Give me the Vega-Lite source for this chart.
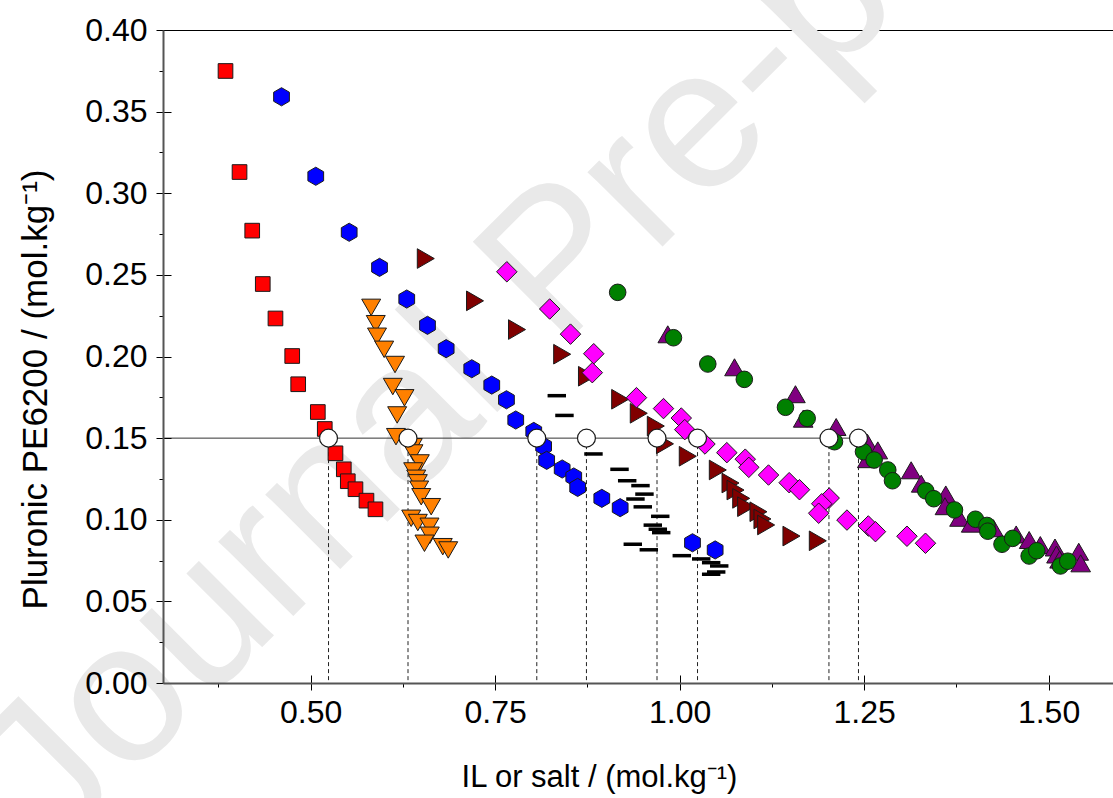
{
  "$schema": "https://vega.github.io/schema/vega-lite/v6.json",
  "width": 950,
  "height": 653,
  "autosize": {"type": "none"},
  "padding": {"left": 163, "top": 30, "right": 0, "bottom": 115},
  "background": "white",
  "config": {
    "view": {"stroke": "black", "strokeWidth": 1},
    "font": "Liberation Sans"
  },
  "datasets": {
    "pts": [
      {"s": "red", "x": 0.3847, "y": 0.3749},
      {"s": "red", "x": 0.4037, "y": 0.3130},
      {"s": "red", "x": 0.4209, "y": 0.2771},
      {"s": "red", "x": 0.4352, "y": 0.2444},
      {"s": "red", "x": 0.4524, "y": 0.2233},
      {"s": "red", "x": 0.4751, "y": 0.2003},
      {"s": "red", "x": 0.4832, "y": 0.1830},
      {"s": "red", "x": 0.5098, "y": 0.1660},
      {"s": "red", "x": 0.5192, "y": 0.1556},
      {"s": "red", "x": 0.5337, "y": 0.1407},
      {"s": "red", "x": 0.5450, "y": 0.1309},
      {"s": "red", "x": 0.5504, "y": 0.1236},
      {"s": "red", "x": 0.5608, "y": 0.1187},
      {"s": "red", "x": 0.5757, "y": 0.1117},
      {"s": "red", "x": 0.5879, "y": 0.1064},
      {"s": "blue", "x": 0.4606, "y": 0.3591},
      {"s": "blue", "x": 0.5070, "y": 0.3104},
      {"s": "blue", "x": 0.5523, "y": 0.2761},
      {"s": "blue", "x": 0.5934, "y": 0.2546},
      {"s": "blue", "x": 0.6303, "y": 0.2352},
      {"s": "blue", "x": 0.6584, "y": 0.2191},
      {"s": "blue", "x": 0.6837, "y": 0.2048},
      {"s": "blue", "x": 0.7184, "y": 0.1925},
      {"s": "blue", "x": 0.7455, "y": 0.1825},
      {"s": "blue", "x": 0.7654, "y": 0.1735},
      {"s": "blue", "x": 0.7780, "y": 0.1611},
      {"s": "blue", "x": 0.8024, "y": 0.1541},
      {"s": "blue", "x": 0.8158, "y": 0.1450},
      {"s": "blue", "x": 0.8199, "y": 0.1364},
      {"s": "blue", "x": 0.8409, "y": 0.1311},
      {"s": "blue", "x": 0.8566, "y": 0.1262},
      {"s": "blue", "x": 0.8619, "y": 0.1198},
      {"s": "blue", "x": 0.8946, "y": 0.1131},
      {"s": "blue", "x": 0.9195, "y": 0.1074},
      {"s": "blue", "x": 1.0175, "y": 0.0859},
      {"s": "blue", "x": 1.0482, "y": 0.0815},
      {"s": "orange", "x": 0.5821, "y": 0.2301},
      {"s": "orange", "x": 0.5883, "y": 0.2201},
      {"s": "orange", "x": 0.5900, "y": 0.2124},
      {"s": "orange", "x": 0.5997, "y": 0.2044},
      {"s": "orange", "x": 0.6144, "y": 0.1951},
      {"s": "orange", "x": 0.6114, "y": 0.1816},
      {"s": "orange", "x": 0.6272, "y": 0.1747},
      {"s": "orange", "x": 0.6173, "y": 0.1642},
      {"s": "orange", "x": 0.6157, "y": 0.1509},
      {"s": "orange", "x": 0.6385, "y": 0.1447},
      {"s": "orange", "x": 0.6394, "y": 0.1409},
      {"s": "orange", "x": 0.6480, "y": 0.1348},
      {"s": "orange", "x": 0.6390, "y": 0.1299},
      {"s": "orange", "x": 0.6431, "y": 0.1254},
      {"s": "orange", "x": 0.6453, "y": 0.1226},
      {"s": "orange", "x": 0.6471, "y": 0.1187},
      {"s": "orange", "x": 0.6499, "y": 0.1141},
      {"s": "orange", "x": 0.6634, "y": 0.1080},
      {"s": "orange", "x": 0.6363, "y": 0.1009},
      {"s": "orange", "x": 0.6453, "y": 0.0983},
      {"s": "orange", "x": 0.6611, "y": 0.0960},
      {"s": "orange", "x": 0.6615, "y": 0.0905},
      {"s": "orange", "x": 0.6543, "y": 0.0856},
      {"s": "orange", "x": 0.6791, "y": 0.0835},
      {"s": "orange", "x": 0.6865, "y": 0.0815},
      {"s": "darkred", "x": 0.6561, "y": 0.2600},
      {"s": "darkred", "x": 0.7228, "y": 0.2341},
      {"s": "darkred", "x": 0.7797, "y": 0.2165},
      {"s": "darkred", "x": 0.8409, "y": 0.2014},
      {"s": "darkred", "x": 0.8745, "y": 0.1879},
      {"s": "darkred", "x": 0.9195, "y": 0.1738},
      {"s": "darkred", "x": 0.9447, "y": 0.1652},
      {"s": "darkred", "x": 0.9678, "y": 0.1574},
      {"s": "darkred", "x": 0.9802, "y": 0.1465},
      {"s": "darkred", "x": 1.0111, "y": 0.1389},
      {"s": "darkred", "x": 1.0518, "y": 0.1305},
      {"s": "darkred", "x": 1.0690, "y": 0.1225},
      {"s": "darkred", "x": 1.0758, "y": 0.1182},
      {"s": "darkred", "x": 1.0835, "y": 0.1131},
      {"s": "darkred", "x": 1.0902, "y": 0.1080},
      {"s": "darkred", "x": 1.1069, "y": 0.1049},
      {"s": "darkred", "x": 1.1123, "y": 0.1005},
      {"s": "darkred", "x": 1.1173, "y": 0.0968},
      {"s": "darkred", "x": 1.1516, "y": 0.0900},
      {"s": "darkred", "x": 1.1873, "y": 0.0871},
      {"s": "magenta", "x": 0.7659, "y": 0.2519},
      {"s": "magenta", "x": 0.8240, "y": 0.2291},
      {"s": "magenta", "x": 0.8522, "y": 0.2137},
      {"s": "magenta", "x": 0.8837, "y": 0.2017},
      {"s": "magenta", "x": 0.8817, "y": 0.1901},
      {"s": "magenta", "x": 0.9416, "y": 0.1748},
      {"s": "magenta", "x": 0.9782, "y": 0.1681},
      {"s": "magenta", "x": 1.0023, "y": 0.1623},
      {"s": "magenta", "x": 1.0070, "y": 0.1552},
      {"s": "magenta", "x": 1.0344, "y": 0.1464},
      {"s": "magenta", "x": 1.0640, "y": 0.1411},
      {"s": "magenta", "x": 1.0890, "y": 0.1371},
      {"s": "magenta", "x": 1.0938, "y": 0.1321},
      {"s": "magenta", "x": 1.1205, "y": 0.1274},
      {"s": "magenta", "x": 1.1485, "y": 0.1227},
      {"s": "magenta", "x": 1.1625, "y": 0.1184},
      {"s": "magenta", "x": 1.2027, "y": 0.1133},
      {"s": "magenta", "x": 1.1926, "y": 0.1098},
      {"s": "magenta", "x": 1.1885, "y": 0.1040},
      {"s": "magenta", "x": 1.2268, "y": 0.0998},
      {"s": "magenta", "x": 1.2557, "y": 0.0962},
      {"s": "magenta", "x": 1.2654, "y": 0.0927},
      {"s": "magenta", "x": 1.3081, "y": 0.0899},
      {"s": "magenta", "x": 1.3332, "y": 0.0856},
      {"s": "purple", "x": 0.9840, "y": 0.2136},
      {"s": "purple", "x": 1.0744, "y": 0.1934},
      {"s": "purple", "x": 1.1570, "y": 0.1769},
      {"s": "purple", "x": 1.1675, "y": 0.1619},
      {"s": "purple", "x": 1.2122, "y": 0.1568},
      {"s": "purple", "x": 1.2546, "y": 0.1471},
      {"s": "purple", "x": 1.2686, "y": 0.1425},
      {"s": "purple", "x": 1.2543, "y": 0.1371},
      {"s": "purple", "x": 1.3138, "y": 0.1303},
      {"s": "purple", "x": 1.3274, "y": 0.1221},
      {"s": "purple", "x": 1.3607, "y": 0.1155},
      {"s": "purple", "x": 1.3596, "y": 0.1083},
      {"s": "purple", "x": 1.3793, "y": 0.1012},
      {"s": "purple", "x": 1.3951, "y": 0.0976},
      {"s": "purple", "x": 1.4253, "y": 0.0948},
      {"s": "purple", "x": 1.4561, "y": 0.0910},
      {"s": "purple", "x": 1.4737, "y": 0.0876},
      {"s": "purple", "x": 1.4888, "y": 0.0845},
      {"s": "purple", "x": 1.5087, "y": 0.0830},
      {"s": "purple", "x": 1.5107, "y": 0.0787},
      {"s": "purple", "x": 1.5409, "y": 0.0804},
      {"s": "purple", "x": 1.5435, "y": 0.0733},
      {"s": "purple", "x": 1.5149, "y": 0.0756},
      {"s": "green", "x": 0.9161, "y": 0.2393},
      {"s": "green", "x": 0.9917, "y": 0.2115},
      {"s": "green", "x": 1.0382, "y": 0.1954},
      {"s": "green", "x": 1.0877, "y": 0.1860},
      {"s": "green", "x": 1.1435, "y": 0.1689},
      {"s": "green", "x": 1.1729, "y": 0.1621},
      {"s": "green", "x": 1.2099, "y": 0.1478},
      {"s": "green", "x": 1.2492, "y": 0.1417},
      {"s": "green", "x": 1.2636, "y": 0.1366},
      {"s": "green", "x": 1.2821, "y": 0.1305},
      {"s": "green", "x": 1.2885, "y": 0.1239},
      {"s": "green", "x": 1.3336, "y": 0.1177},
      {"s": "green", "x": 1.3444, "y": 0.1129},
      {"s": "green", "x": 1.3725, "y": 0.1060},
      {"s": "green", "x": 1.4009, "y": 0.1003},
      {"s": "green", "x": 1.4165, "y": 0.0965},
      {"s": "green", "x": 1.4176, "y": 0.0930},
      {"s": "green", "x": 1.4369, "y": 0.0850},
      {"s": "green", "x": 1.4513, "y": 0.0886},
      {"s": "green", "x": 1.4737, "y": 0.0778},
      {"s": "green", "x": 1.4840, "y": 0.0810},
      {"s": "green", "x": 1.5161, "y": 0.0717},
      {"s": "green", "x": 1.5260, "y": 0.0746}
    ],
    "black": [
      {"x": 0.8336, "y": 0.1760},
      {"x": 0.8440, "y": 0.1639},
      {"x": 0.8833, "y": 0.1403},
      {"x": 0.9186, "y": 0.1309},
      {"x": 0.9290, "y": 0.1239},
      {"x": 0.9470, "y": 0.1209},
      {"x": 0.9524, "y": 0.1157},
      {"x": 0.9402, "y": 0.1127},
      {"x": 0.9501, "y": 0.1079},
      {"x": 0.9738, "y": 0.1021},
      {"x": 0.9637, "y": 0.0967},
      {"x": 0.9705, "y": 0.0942},
      {"x": 0.9751, "y": 0.0921},
      {"x": 0.9366, "y": 0.0850},
      {"x": 0.9583, "y": 0.0816},
      {"x": 1.0030, "y": 0.0780},
      {"x": 1.0293, "y": 0.0760},
      {"x": 1.0428, "y": 0.0737},
      {"x": 1.0537, "y": 0.0717},
      {"x": 1.0496, "y": 0.0680},
      {"x": 1.0428, "y": 0.0666}
    ],
    "tie": [
      {"x": 0.5243, "y": 0.15, "y0": 0},
      {"x": 0.6320, "y": 0.15, "y0": 0},
      {"x": 0.8065, "y": 0.15, "y0": 0},
      {"x": 0.8738, "y": 0.15, "y0": 0},
      {"x": 0.9694, "y": 0.15, "y0": 0},
      {"x": 1.0243, "y": 0.15, "y0": 0},
      {"x": 1.2024, "y": 0.15, "y0": 0},
      {"x": 1.2424, "y": 0.15, "y0": 0}
    ],
    "wm": [
      {"x": 0.837, "y": 0.256, "t": "Journal Pre-proof"}
    ],
    "hline": [
      {"x": 0.3, "x2": 1.2424, "y": 0.15}
    ]
  },
  "resolve": {"axis": {"x": "independent", "y": "independent"}},
  "layer": [
    {
      "data": {"name": "wm"},
      "mark": {"type": "text", "angle": -45, "fontSize": 200, "font": "Liberation Sans", "color": "#e9e9e9", "align": "center", "baseline": "middle"},
      "encoding": {
        "x": {"field": "x", "type": "quantitative", "scale": {"domain": [0.3, 1.5873], "nice": false, "zero": false}, "axis": null},
        "y": {"field": "y", "type": "quantitative", "scale": {"domain": [0, 0.4], "nice": false, "zero": false}, "axis": null},
        "text": {"field": "t", "type": "nominal"}
      }
    },
    {
      "data": {"name": "hline"},
      "mark": {"type": "rule", "color": "#333", "strokeWidth": 1},
      "encoding": {
        "x": {"field": "x", "type": "quantitative", "axis": {"orient": "bottom", "zindex": 1, "values": [0.375, 0.5, 0.625, 0.75, 0.875, 1, 1.125, 1.25, 1.375, 1.5], "labels": false, "domain": false, "title": null, "grid": false, "tickColor": "black", "tickWidth": 1, "tickSize": {"condition": {"test": "abs(datum.value*4-round(datum.value*4))<0.001", "value": -8}, "value": 4}}},
        "x2": {"field": "x2"},
        "y": {"field": "y", "type": "quantitative", "axis": {"orient": "left", "zindex": 1, "values": [0.025, 0.05, 0.075, 0.1, 0.125, 0.15, 0.175, 0.2, 0.225, 0.25, 0.275, 0.3, 0.325, 0.35, 0.375, 0.4], "labels": false, "domain": false, "title": null, "grid": false, "tickColor": "black", "tickWidth": 1, "tickSize": {"condition": {"test": "abs(datum.value*20-round(datum.value*20))<0.001", "value": -8}, "value": 4}}}
      }
    },
    {
      "data": {"name": "tie"},
      "mark": {"type": "rule", "color": "#222", "strokeWidth": 1, "strokeDash": [4, 3]},
      "encoding": {
        "x": {"field": "x", "type": "quantitative", "axis": null},
        "y": {"field": "y", "type": "quantitative", "axis": null},
        "y2": {"field": "y0"}
      }
    },
    {
      "data": {"name": "pts"},
      "mark": {"type": "point", "filled": true, "opacity": 1, "stroke": "#1a1a1a", "strokeWidth": 1},
      "encoding": {
        "x": {"field": "x", "type": "quantitative", "axis": {"orient": "bottom", "zindex": 1, "title": "IL or salt / (mol.kg⁻¹)", "values": [0.5, 0.75, 1, 1.25, 1.5], "format": ".2f", "grid": false, "tickSize": 7, "tickColor": "black", "tickWidth": 1, "domainColor": "#555", "domainWidth": 2, "labelFont": "Liberation Sans", "labelFontSize": 32, "labelColor": "black", "labelPadding": 7, "labelFlush": false, "labelOverlap": false, "titleFont": "Liberation Sans", "titleFontSize": 31, "titleFontWeight": "normal", "titleColor": "black", "titleX": 436, "titleY": 94, "titleBaseline": "middle", "titleAlign": "center"}},
        "y": {"field": "y", "type": "quantitative", "axis": {"orient": "left", "zindex": 1, "title": "Pluronic PE6200 / (mol.kg⁻¹)", "values": [0, 0.05, 0.1, 0.15, 0.2, 0.25, 0.3, 0.35, 0.4], "format": ".2f", "grid": false, "tickSize": 7, "tickColor": "black", "tickWidth": 1, "domainColor": "#555", "domainWidth": 2, "labelFont": "Liberation Sans", "labelFontSize": 32, "labelColor": "black", "labelPadding": 9, "labelFlush": false, "labelOverlap": false, "titleFont": "Liberation Sans", "titleFontSize": 35, "titleFontWeight": "normal", "titleColor": "black", "titleX": -128, "titleY": 359, "titleBaseline": "middle", "titleAlign": "center", "titleAngle": -90}},
        "fill": {"field": "s", "type": "nominal", "legend": null, "scale": {"domain": ["red", "blue", "orange", "darkred", "magenta", "purple", "green"], "range": ["#ff0000", "#0000ff", "#ff8000", "#800000", "#ff00ff", "#800080", "#008000"]}},
        "shape": {"field": "s", "type": "nominal", "legend": null, "scale": {"domain": ["red", "blue", "orange", "darkred", "magenta", "purple", "green"], "range": ["square", "M0,-1L0.866,-0.5L0.866,0.5L0,1L-0.866,0.5L-0.866,-0.5Z", "triangle-down", "triangle-right", "diamond", "triangle-up", "circle"]}},
        "size": {"field": "s", "type": "nominal", "legend": null, "scale": {"type": "ordinal", "domain": ["red", "blue", "orange", "darkred", "magenta", "purple", "green"], "range": [215, 330, 360, 385, 420, 385, 275]}}
      }
    },
    {
      "data": {"name": "black"},
      "mark": {"type": "point", "shape": "stroke", "filled": false, "opacity": 1, "stroke": "black", "strokeWidth": 3.5, "size": 340},
      "encoding": {
        "x": {"field": "x", "type": "quantitative", "axis": null},
        "y": {"field": "y", "type": "quantitative", "axis": null}
      }
    },
    {
      "data": {"name": "tie"},
      "mark": {"type": "point", "shape": "circle", "filled": true, "opacity": 1, "fill": "white", "stroke": "#1a1a1a", "strokeWidth": 1.2, "size": 320},
      "encoding": {
        "x": {"field": "x", "type": "quantitative", "axis": null},
        "y": {"field": "y", "type": "quantitative", "axis": null}
      }
    }
  ]
}
